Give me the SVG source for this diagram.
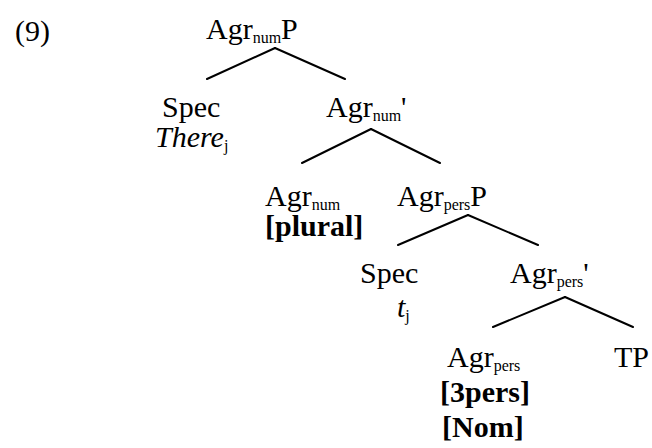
<svg xmlns="http://www.w3.org/2000/svg" width="652" height="448" viewBox="0 0 652 448">
<style>
.sub{font-size:16px}
.it{font-style:italic}
.b{font-weight:bold}
.edge{stroke:#000;stroke-width:2;fill:none;stroke-linecap:round}
</style>
<rect width="652" height="448" fill="#fff"/>
<g id="label"><text x="15" y="41" font-family="Liberation Serif" font-size="30">(9)</text></g>
<g id="agrnumP"><text x="206" y="39" font-family="Liberation Serif" font-size="30">Agr<tspan class="sub" dy="4">num</tspan><tspan dy="-4">P</tspan></text></g>
<g id="spec1"><text x="162" y="117" font-family="Liberation Serif" font-size="30">Spec</text><text x="155" y="147" font-family="Liberation Serif" font-size="30" class="it">There<tspan class="sub" dy="4" font-style="normal">j</tspan></text></g>
<g id="agrnumbar"><text x="326" y="117" font-family="Liberation Serif" font-size="30">Agr<tspan class="sub" dy="4">num</tspan><tspan dy="-4">'</tspan></text></g>
<g id="agrnum"><text x="265" y="206" font-family="Liberation Serif" font-size="30">Agr<tspan class="sub" dy="4">num</tspan></text><text x="265" y="236" font-family="Liberation Serif" font-size="30" class="b">[plural]</text></g>
<g id="agrpersP"><text x="397" y="206" font-family="Liberation Serif" font-size="30">Agr<tspan class="sub" dy="4">pers</tspan><tspan dy="-4">P</tspan></text></g>
<g id="spec2"><text x="360" y="283" font-family="Liberation Serif" font-size="30">Spec</text><text x="397" y="317" font-family="Liberation Serif" font-size="30" class="it">t<tspan class="sub" dy="4" font-style="normal">j</tspan></text></g>
<g id="agrpersbar"><text x="510" y="283" font-family="Liberation Serif" font-size="30">Agr<tspan class="sub" dy="4">pers</tspan><tspan dy="-4">'</tspan></text></g>
<g id="agrpers"><text x="447" y="367" font-family="Liberation Serif" font-size="30">Agr<tspan class="sub" dy="4">pers</tspan></text><text x="440" y="402" font-family="Liberation Serif" font-size="30" class="b">[3pers]</text><text x="442" y="437" font-family="Liberation Serif" font-size="30" class="b">[Nom]</text></g>
<g id="tp"><text x="614" y="367" font-family="Liberation Serif" font-size="30">TP</text></g>
<g id="connectors">
<line class="edge" x1="275" y1="48" x2="207" y2="79"/>
<line class="edge" x1="275" y1="48" x2="345" y2="79"/>
<line class="edge" x1="371" y1="129" x2="302" y2="163"/>
<line class="edge" x1="371" y1="129" x2="440" y2="163"/>
<line class="edge" x1="468" y1="215" x2="398" y2="245"/>
<line class="edge" x1="468" y1="215" x2="538" y2="245"/>
<line class="edge" x1="565" y1="297" x2="493" y2="327"/>
<line class="edge" x1="565" y1="297" x2="633" y2="327"/>
</g>
</svg>
